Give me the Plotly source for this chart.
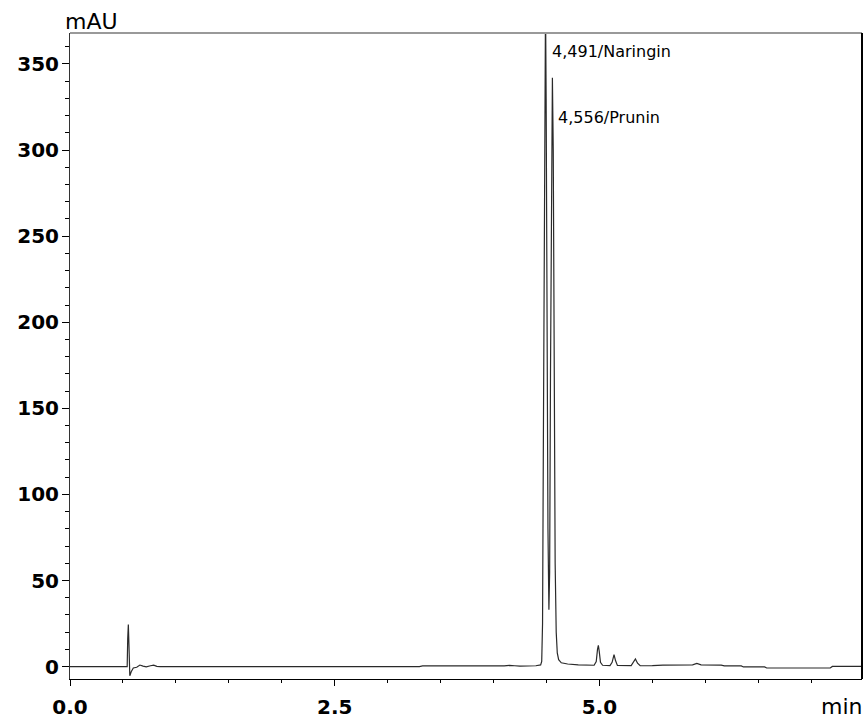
import plotly.graph_objects as go

# ---- data ----
time_min = [
    0.00, 0.54, 0.545, 0.551, 0.557, 0.565, 0.578, 0.598, 0.630, 0.660,
    0.690, 0.720, 0.760, 0.790, 0.820, 0.850, 3.30, 3.33, 4.10, 4.15,
    4.20, 4.25, 4.40, 4.445, 4.455, 4.463, 4.470, 4.478, 4.486, 4.491,
    4.497, 4.505, 4.514, 4.523, 4.530, 4.538, 4.547, 4.556, 4.564, 4.573,
    4.582, 4.592, 4.602, 4.615, 4.640, 4.700, 4.800, 4.950, 4.970, 4.982,
    4.990, 4.998, 5.010, 5.030, 5.100, 5.120, 5.138, 5.152, 5.170, 5.300,
    5.320, 5.340, 5.360, 5.385, 5.500, 5.600, 5.880, 5.920, 5.960, 6.150,
    6.180, 6.340, 6.360, 6.560, 6.580, 7.180, 7.200, 7.480,
]
signal_mau = [
    0.0, 0.0, 16.0, 24.4, 12.0, -5.3, -3.0, -0.8, -0.4, 0.9,
    0.3, -0.2, 0.5, 0.8, 0.1, 0.0, 0.0, 0.4, 0.4, 0.7,
    0.5, 0.3, 0.5, 1.0, 3.0, 25.0, 120.0, 270.0, 370.0, 385.0,
    330.0, 190.0, 80.0, 33.0, 55.0, 170.0, 310.0, 342.0, 300.0, 160.0,
    60.0, 20.0, 8.0, 4.0, 2.2, 1.5, 1.0, 0.8, 3.0, 10.0,
    12.4, 9.0, 2.5, 0.8, 0.6, 2.5, 7.0, 3.5, 0.7, 0.6,
    2.2, 4.4, 2.0, 0.5, 0.6, 0.9, 1.0, 1.8, 1.0, 0.9,
    0.4, 0.4, -0.2, -0.2, -0.8, -0.8, 0.1, 0.1,
]

peak_times = [4.491, 4.556]
peak_names = ["Naringin", "Prunin"]
peak_label_text = ["4,491/Naringin", "4,556/Prunin"]

y_tick_vals = [0, 50, 100, 150, 200, 250, 300, 350]
y_tick_text = ["0", "50", "100", "150", "200", "250", "300", "350"]
x_tick_vals = [0.0, 2.5, 5.0]
x_tick_text = ["0.0", "2.5", "5.0"]

# ---- layout constants ----
W, H = 864, 721
ML, MR, MT, MB = 70, 2, 33, 32
label_y_vals = [357, 319]   # vertical placement of peak labels (mAU)

fig = go.Figure()
fig.add_trace(go.Scatter(
    x=time_min, y=signal_mau, mode="lines",
    line=dict(color="#2a2a2a", width=1.2),
    hoverinfo="skip", showlegend=False,
))

tick_font = dict(family="DejaVu Sans", size=20, color="black", weight="bold")

fig.update_layout(
    width=W, height=H,
    margin=dict(l=ML, r=MR, t=MT, b=MB),
    paper_bgcolor="white", plot_bgcolor="white",
    showlegend=False,
    xaxis=dict(
        range=[0, 7.48], showgrid=False, zeroline=False,
        tickmode="array", tickvals=x_tick_vals, ticktext=x_tick_text,
        ticks="outside", ticklen=6, tickwidth=1, tickcolor="black",
        minor=dict(dtick=0.5, ticks="outside", ticklen=3, tickwidth=1, tickcolor="black"),
        showline=True, linecolor="black", linewidth=1,
        tickfont=tick_font, ticklabelstandoff=4,
    ),
    yaxis=dict(
        range=[-7.2, 368], showgrid=False, zeroline=False,
        tickmode="array", tickvals=y_tick_vals, ticktext=y_tick_text,
        ticks="outside", ticklen=7, tickwidth=1, tickcolor="black",
        minor=dict(dtick=10, ticks="outside", ticklen=4, tickwidth=1, tickcolor="black"),
        showline=True, linecolor="#333333", linewidth=1,
        tickfont=tick_font, ticklabelstandoff=-1,
    ),
)

# frame: grey top edge, black right edge
fig.add_shape(type="line", xref="paper", yref="paper", x0=0, x1=1, y0=1, y1=1,
              line=dict(color="#999999", width=2))
fig.add_shape(type="line", xref="paper", yref="paper", x0=1, x1=1, y0=0, y1=1,
              line=dict(color="black", width=2))

# axis unit labels
fig.add_annotation(text="mAU", xref="paper", yref="paper",
                   x=(63 - ML) / (W - ML - MR), y=1 + (MT - 21) / (H - MT - MB),
                   xanchor="left", yanchor="middle", showarrow=False,
                   font=dict(family="DejaVu Sans", size=22, color="black"))
fig.add_annotation(text="min", xref="paper", yref="paper",
                   x=(865 - ML) / (W - ML - MR), y=-(717 - (H - MB)) / (H - MT - MB),
                   xanchor="right", yanchor="middle", showarrow=False,
                   font=dict(family="DejaVu Sans", size=22, color="black"))

# peak labels
for t, txt, ly in zip(peak_times, peak_label_text, label_y_vals):
    fig.add_annotation(text=txt, x=t, y=ly, xref="x", yref="y",
                       xanchor="left", yanchor="middle", xshift=4,
                       showarrow=False,
                       font=dict(family="DejaVu Sans", size=16, color="black"))

fig.write_html("out.html")
